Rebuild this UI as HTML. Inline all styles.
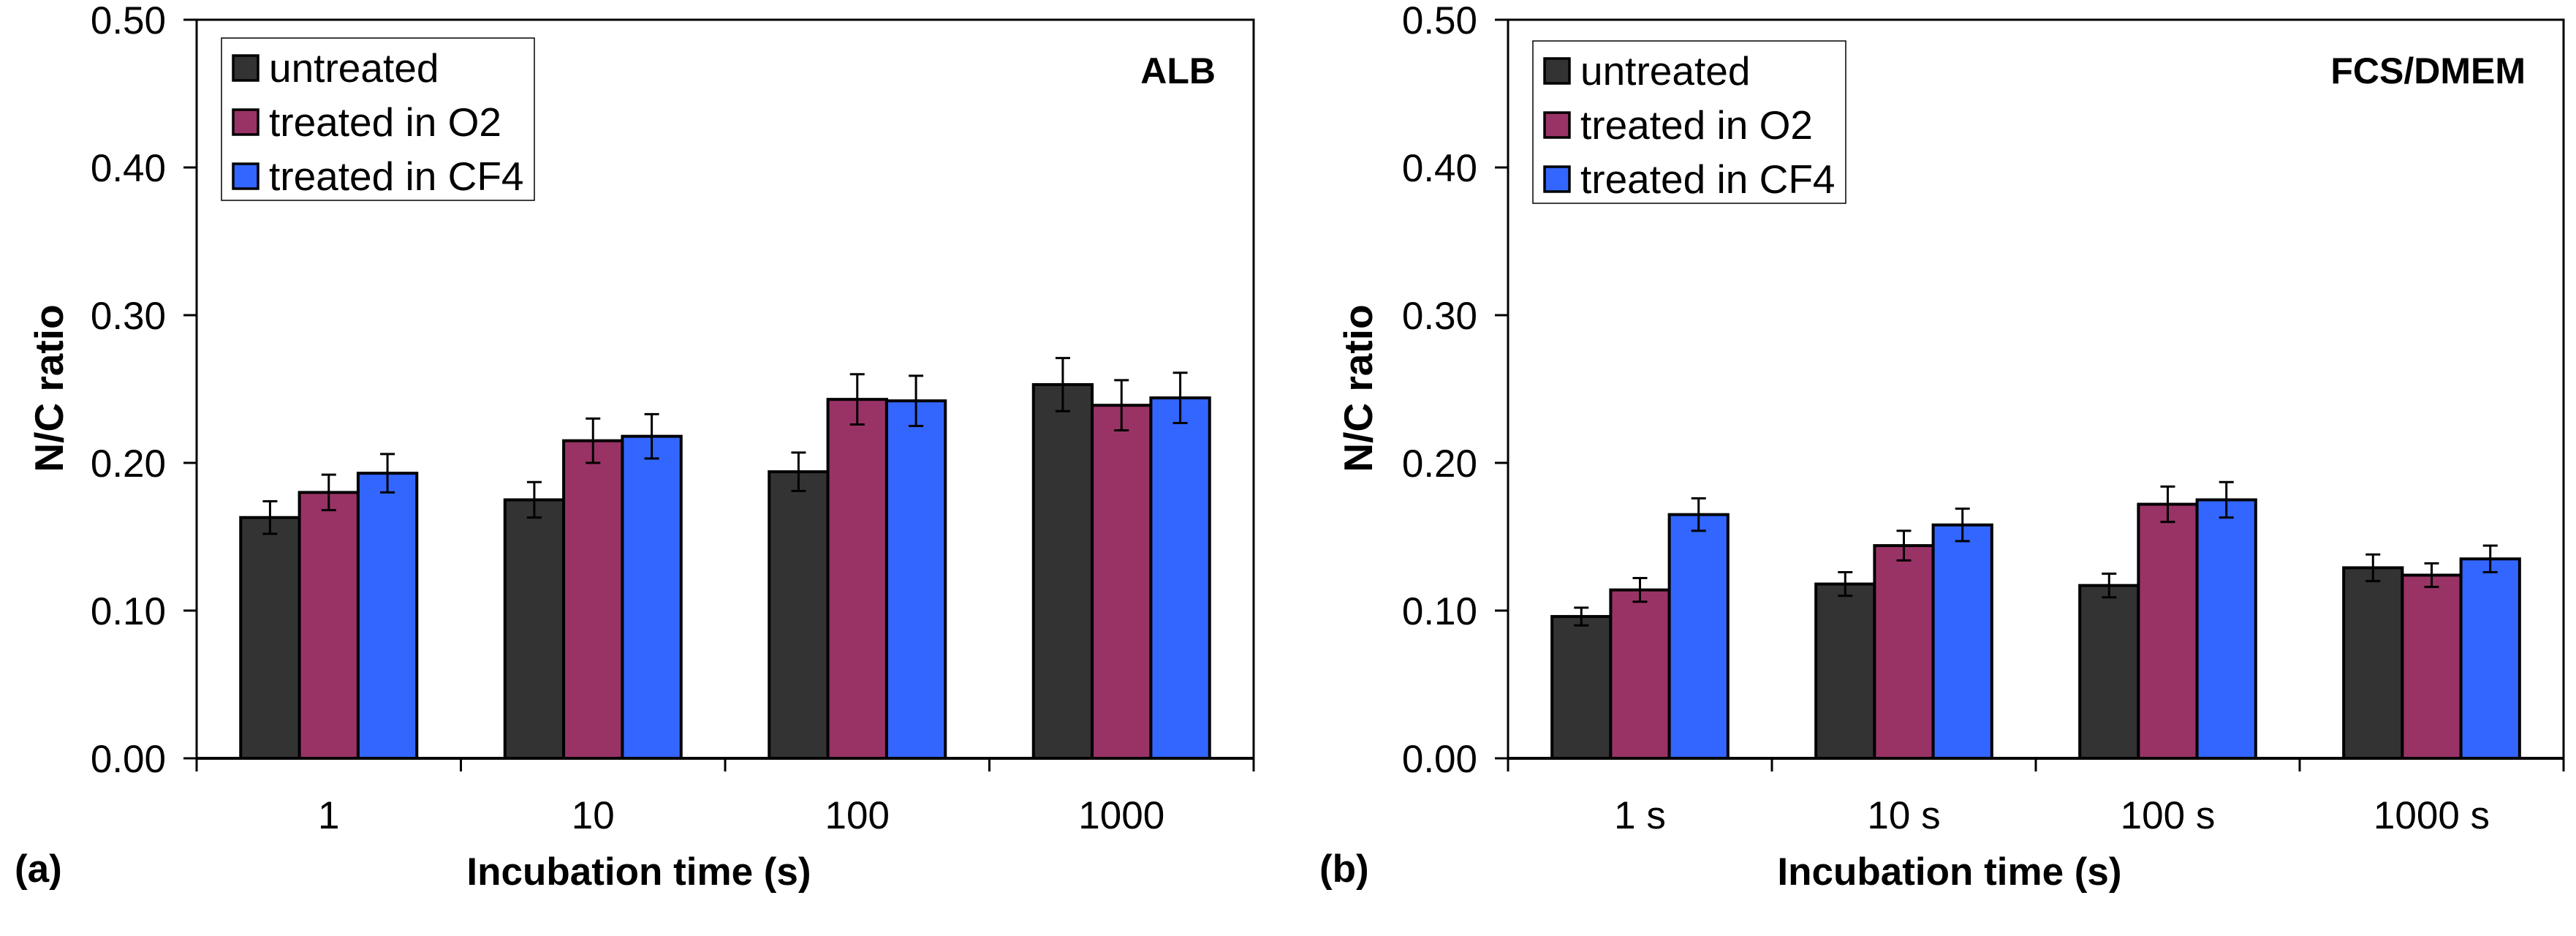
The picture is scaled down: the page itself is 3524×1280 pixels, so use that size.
<!DOCTYPE html>
<html><head><meta charset="utf-8">
<style>
html,body{margin:0;padding:0;background:#fff;}
svg{display:block;font-family:"Liberation Sans",Arial,sans-serif;}
</style></head>
<body>
<svg id="fig" width="3524" height="1280" viewBox="0 0 3524 1280" xmlns="http://www.w3.org/2000/svg"></svg>
<script>
const categoriesA = ["1","10","100","1000"];
const categoriesB = ["1 s","10 s","100 s","1000 s"];
const seriesNames = ["untreated","treated in O2","treated in CF4"];
const seriesColors = ["#333333","#993366","#3366FF"];
const yTicks = [0,0.1,0.2,0.3,0.4,0.5];
const yTickLabels = ["0.00","0.10","0.20","0.30","0.40","0.50"];
const untreatedA = [0.163,0.175,0.194,0.253];
const o2A = [0.180,0.215,0.243,0.239];
const cf4A = [0.193,0.218,0.242,0.244];
const untreatedErrA = [0.011,0.012,0.013,0.018];
const o2ErrA = [0.012,0.015,0.017,0.017];
const cf4ErrA = [0.013,0.015,0.017,0.017];
const untreatedB = [0.096,0.118,0.117,0.129];
const o2B = [0.114,0.144,0.172,0.124];
const cf4B = [0.165,0.158,0.175,0.135];
const untreatedErrB = [0.006,0.008,0.008,0.009];
const o2ErrB = [0.008,0.010,0.012,0.008];
const cf4ErrB = [0.011,0.011,0.012,0.009];

const NS="http://www.w3.org/2000/svg";
const svg=document.getElementById('fig');
function mk(tag,attrs,parent,text){const e=document.createElementNS(NS,tag);for(const k in attrs)e.setAttribute(k,attrs[k]);if(text!==undefined)e.textContent=text;(parent||svg).appendChild(e);return e;}

function panel(cfg){
  const g=mk('g',{});
  
  
  const L=cfg.left,R=cfg.right,T=27,B=1037;
  const yScale=v=>B-(v/0.5)*(B-T);
  const catW=(R-L)/cfg.cats.length;
  const barW=catW*2/9;
  const xCat=i=>L+catW*(i+0.5);
  // plot frame
  const frame=mk('rect',{x:L,y:T,width:R-L,height:B-T,fill:'none',stroke:'#000','stroke-width':3},g);
  
  
  // y ticks
  yTicks.forEach((v,i)=>{
    const y=yScale(v);
    const t=mk('line',{x1:L-18,x2:L,y1:y,y2:y,stroke:'#000','stroke-width':3},g);
    
    
    const lb=mk('text',{x:L-42,y:y+19,'font-size':53,'text-anchor':'end',fill:'#000'},g,yTickLabels[i]);
    
    
  });
  // x ticks
  for(let i=0;i<=cfg.cats.length;i++){
    const x=L+catW*i;
    const t=mk('line',{x1:x,x2:x,y1:B,y2:B+18,stroke:'#000','stroke-width':3},g);
    
    
  }
  cfg.cats.forEach((c,i)=>{
    const lb=mk('text',{x:xCat(i),y:1133,'font-size':53,'text-anchor':'middle',fill:'#000'},g,c);
    
    
  });
  // bars
  cfg.series.forEach((s,si)=>{
    s.vals.forEach((v,i)=>{
      const x0=xCat(i)-1.5*barW+si*barW;
      const y=yScale(v);
      const r=mk('rect',{x:x0,y:y,width:barW,height:B-y,fill:seriesColors[si],stroke:'#000','stroke-width':4},g);
      
      
      const cx=x0+barW/2,e=s.errs[i],y1=yScale(v+e),y2=yScale(v-e);
      const eb=mk('path',{d:`M${cx},${y1}V${y2}M${cx-10},${y1}H${cx+10}M${cx-10},${y2}H${cx+10}`,stroke:'#000','stroke-width':3,fill:'none'},g);
      
      
    });
  });
  // baseline redraw
  mk('line',{x1:L,x2:R,y1:B,y2:B,stroke:'#000','stroke-width':4},g);
  // legend
  const lg=mk('g',{},g);
  
  
  const lx=L+34,ly=cfg.legTop;
  mk('rect',{x:lx,y:ly,width:428,height:222,fill:'#fff',stroke:'#000','stroke-width':1.5},lg);
  seriesNames.forEach((n,si)=>{
    const cy=ly+41+si*74;
    const e=mk('g',{},lg);
    
    
    mk('rect',{x:lx+16,y:cy-17,width:34,height:34,fill:seriesColors[si],stroke:'#000','stroke-width':3.5},e);
    mk('text',{x:lx+65,y:cy+19,'font-size':55,fill:'#000'},e,n);
  });
  // panel title
  const tt=mk('text',{x:R-52,y:114,'font-size':50,'font-weight':'bold','text-anchor':'end',fill:'#000'},g,cfg.title);
  
  
  // axis titles
  const yt=mk('text',{x:0,y:0,'font-size':55,'font-weight':'bold','text-anchor':'middle',transform:`translate(${cfg.yTitleX+19},531) rotate(-90)`,fill:'#000'},g,'N/C ratio');
  
  
  const xt=mk('text',{x:(L+R)/2-118,y:1210,'font-size':53,'font-weight':'bold','text-anchor':'middle',fill:'#000'},g,'Incubation time (s)');
  
  
  const pl=mk('text',{x:cfg.labelX,y:1206,'font-size':53,'font-weight':'bold',fill:'#000'},g,cfg.label);
  
  
}

panel({id:'a',left:269,right:1715,cats:categoriesA,title:'ALB',label:'(a)',labelX:20,yTitleX:67,legTop:52,
  series:[{vals:untreatedA,errs:untreatedErrA},{vals:o2A,errs:o2ErrA},{vals:cf4A,errs:cf4ErrA}]});
panel({id:'b',left:2063,right:3507,cats:categoriesB,title:'FCS/DMEM',label:'(b)',labelX:1805,yTitleX:1858,legTop:56,
  series:[{vals:untreatedB,errs:untreatedErrB},{vals:o2B,errs:o2ErrB},{vals:cf4B,errs:cf4ErrB}]});
</script>
</body></html>
